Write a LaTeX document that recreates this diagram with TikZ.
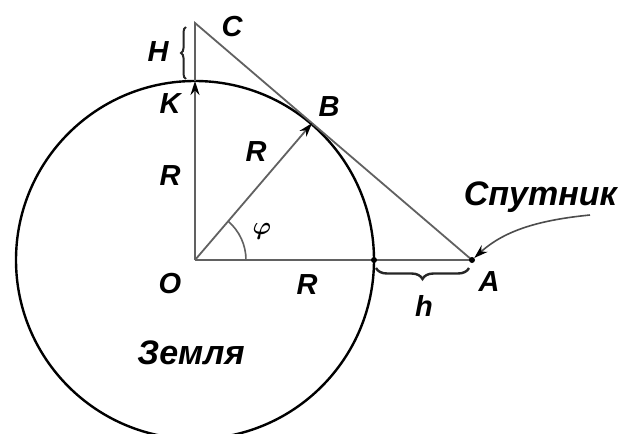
\documentclass[tikz,border=0pt]{standalone}
\usepackage{fontspec}
\usepackage{bm}
\setmainfont{Liberation Sans}
\usetikzlibrary{decorations.pathreplacing,calc,arrows.meta}
\begin{document}
\begin{tikzpicture}[x=1pt,y=-1pt,
  lbl/.style={font=\fontsize{29}{31}\selectfont\bfseries\itshape, inner sep=0pt},
  word/.style={font=\fontsize{34}{36}\selectfont\bfseries\itshape, inner sep=0pt},
  gline/.style={draw=black!62, line width=1.8pt},
  tipar/.style={-{Stealth[length=14pt,width=9pt,color=black]}},
  brc/.style={decorate, draw=black!85, line width=2.4pt},
  dotst/.style={circle, fill=black, inner sep=0pt, minimum size=6pt}
]
\useasboundingbox[fill=white] (0,0) rectangle (619,434);
\coordinate (O) at (195,260);
\coordinate (C) at (195,23);
\coordinate (A) at (472,260);
\coordinate (K) at (195,81);
\coordinate (B) at ($(C)!(O)!(A)$);
\coordinate (E) at (374,260);
\coordinate (S) at (590,215);
% Earth
\draw[black, line width=2.4pt] (O) circle (179pt);
% lines
\draw[gline] (O) -- (A);
\draw[gline] (K) -- (C) -- (A);
\draw[gline, tipar] (O) -- (K);
\draw[gline, tipar] (O) -- (B);
% angle
\draw[gline, line width=1.6pt] ($(O)+(51,0)$) arc[start angle=0, end angle=49.4, radius=51pt];
% dots
\node[dotst] (dA) at (A) {};
\node[dotst] (dE) at (E) {};
% braces
\draw[brc, line width=2pt, decoration={brace, amplitude=5pt}] (186,79) -- (186,27);
\draw[brc, decoration={brace, amplitude=11pt}] (469,268) -- (376,268);
% satellite pointer
\draw[black!70, line width=1.6pt, tipar, shorten >=3pt] (S) .. controls (540,220) and (505,230) .. (A);
% labels
\node[lbl] (lC) at (232,27) {C};
\node[lbl] (lH) at (158,52) {H};
\node[lbl] (lK) at (170,104) {K};
\node[lbl] (lB) at (329,107) {B};
\node[lbl] (lR1) at (256,152) {R};
\node[lbl] (lR2) at (170,176) {R};
\node[lbl] (lO) at (170,284) {O};
\node[lbl] (lR3) at (307,285) {R};
\node[lbl] (lA) at (489,282) {A};
\node[lbl] (lh) at (424,306) {h};
\node[font=\fontsize{30}{32}\selectfont, inner sep=0pt] (phi) at (262,231) {$\bm{\varphi}$};
\node[word, anchor=east] (sp) at (617,197) {Спутник};
\node[word] (zem) at (191,353) {Земля};
\end{tikzpicture}
\end{document}
